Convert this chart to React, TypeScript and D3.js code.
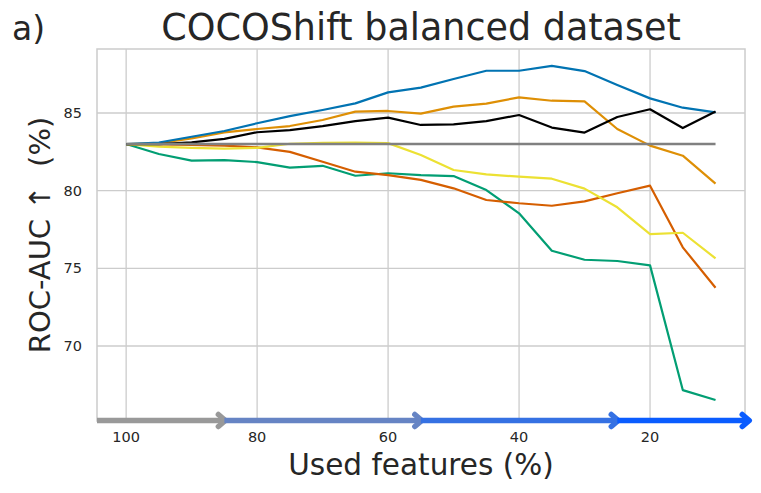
import * as d3 from 'd3';
import { useEffect, useRef } from 'react';

const features = [100, 95, 90, 85, 80, 75, 70, 65, 60, 55, 50, 45, 40, 35, 30, 25, 20, 15, 10];

const blueSeries = [83.0, 83.1, 83.47, 83.84, 84.34, 84.8, 85.19, 85.62, 86.33, 86.63, 87.19, 87.72, 87.72, 88.03, 87.7, 86.8, 85.94, 85.34, 85.04];
const orangeSeries = [83.0, 83.05, 83.37, 83.75, 83.97, 84.16, 84.55, 85.09, 85.13, 84.96, 85.41, 85.6, 86.01, 85.79, 85.75, 83.97, 82.9, 82.25, 80.45];
const blackSeries = [83.0, 83.0, 83.11, 83.33, 83.76, 83.9, 84.16, 84.48, 84.7, 84.23, 84.27, 84.48, 84.87, 84.06, 83.74, 84.74, 85.24, 84.03, 85.09];
const yellowSeries = [83.0, 82.83, 82.76, 82.7, 82.76, 83.02, 83.08, 83.1, 83.06, 82.3, 81.33, 81.05, 80.9, 80.77, 80.13, 78.93, 77.2, 77.29, 75.64];
const redSeries = [83.0, 82.97, 82.94, 82.9, 82.79, 82.5, 81.86, 81.22, 81.0, 80.69, 80.15, 79.4, 79.19, 79.03, 79.31, 79.83, 80.32, 76.35, 73.75];
const greenSeries = [83.0, 82.36, 81.93, 81.97, 81.84, 81.48, 81.6, 80.96, 81.12, 81.0, 80.94, 80.04, 78.54, 76.13, 75.55, 75.47, 75.19, 67.16, 66.52];
const baselineSeries = features.map(() => 83.0);

const xTicks = [100, 80, 60, 40, 20];
const yTicks = [70, 75, 80, 85];

// stages of the feature removal shown under the x axis
const stageStarts = [104.45, 85, 55, 25];
const stageEnds = [85, 55, 25, 5];
const stageColors = ['#999999', '#6684c4', '#3571e3', '#0a5cff'];

export default function App() {
  const ref = useRef<SVGSVGElement | null>(null);

  useEffect(() => {
    const svg = d3.select(ref.current);
    const width = 761;
    const height = 493;
    const margin = { top: 49, right: 16, bottom: 72, left: 97 };
    const ink = '#262626';
    const font = 'DejaVu Sans, sans-serif';

    svg.selectAll('*').remove();
    svg.attr('width', width).attr('height', height);

    const x = d3.scaleLinear()
      .domain([104.45, 5.5])
      .range([margin.left, width - margin.right]);

    const y = d3.scaleLinear()
      .domain([65.17, 89.12])
      .range([height - margin.bottom, margin.top]);

    // grid
    const grid = svg.append('g').attr('stroke', '#cccccc').attr('stroke-width', 1.3);
    grid.selectAll('.vx').data(xTicks).join('line')
      .attr('x1', d => x(d)).attr('x2', d => x(d))
      .attr('y1', margin.top).attr('y2', height - margin.bottom);
    grid.selectAll('.hy').data(yTicks).join('line')
      .attr('x1', margin.left).attr('x2', width - margin.right)
      .attr('y1', d => y(d)).attr('y2', d => y(d));

    // spines
    svg.append('rect')
      .attr('x', margin.left).attr('y', margin.top)
      .attr('width', width - margin.right - margin.left)
      .attr('height', height - margin.bottom - margin.top)
      .attr('fill', 'none').attr('stroke', '#cccccc').attr('stroke-width', 1.5);

    // tick labels
    svg.append('g').selectAll('text').data(xTicks).join('text')
      .attr('x', d => x(d)).attr('y', 442)
      .attr('text-anchor', 'middle')
      .attr('font-family', font).attr('font-size', 14.5).attr('fill', ink)
      .text(d => d);
    svg.append('g').selectAll('text').data(yTicks).join('text')
      .attr('x', 82).attr('y', d => y(d) + 5)
      .attr('text-anchor', 'end')
      .attr('font-family', font).attr('font-size', 14.5).attr('fill', ink)
      .text(d => d);

    const line = d3.line<number>()
      .x((_, i) => x(features[i]))
      .y(d => y(d));

    const series: [number[], string, number][] = [
      [greenSeries, '#029e73', 2.2],
      [redSeries, '#d55e00', 2.2],
      [yellowSeries, '#ece133', 2.2],
      [orangeSeries, '#de8f05', 2.2],
      [blueSeries, '#0173b2', 2.2],
      [blackSeries, '#000000', 2.2],
      [baselineSeries, '#808080', 2.5],
    ];
    series.forEach(([vals, color, w]) => {
      svg.append('path')
        .datum(vals)
        .attr('fill', 'none')
        .attr('stroke', color)
        .attr('stroke-width', w)
        .attr('stroke-linejoin', 'round')
        .attr('d', line);
    });

    // stage arrows
    const ay = y(65.17) - 0.5;
    stageStarts.forEach((s, i) => {
      const g = svg.append('g')
        .attr('stroke', stageColors[i])
        .attr('stroke-width', 5.5)
        .attr('fill', 'none');
      const x0 = x(s);
      const x1 = x(stageEnds[i]) + 1;
      g.append('line').attr('x1', x0).attr('x2', x1 - 2).attr('y1', ay).attr('y2', ay);
      g.append('path')
        .attr('stroke-linejoin', 'round')
        .attr('stroke-linecap', 'round')
        .attr('d', `M${x1 - 7},${ay - 6}L${x1},${ay}L${x1 - 7},${ay + 6}`);
    });

    // titles
    svg.append('text')
      .attr('x', (margin.left + width - margin.right) / 2).attr('y', 40)
      .attr('text-anchor', 'middle')
      .attr('font-family', font).attr('font-size', 36.5).attr('fill', ink)
      .text('COCOShift balanced dataset');
    svg.append('text')
      .attr('x', 12).attr('y', 40)
      .attr('font-family', font).attr('font-size', 33).attr('fill', ink)
      .text('a)');
    svg.append('text')
      .attr('x', (margin.left + width - margin.right) / 2).attr('y', 475)
      .attr('text-anchor', 'middle')
      .attr('font-family', font).attr('font-size', 29.5).attr('fill', ink)
      .text('Used features (%)');
    svg.append('text')
      .attr('transform', `translate(50,${(margin.top + height - margin.bottom) / 2}) rotate(-90)`)
      .attr('text-anchor', 'middle')
      .attr('font-family', font).attr('font-size', 29).attr('fill', ink)
      .style('white-space', 'pre')
      .text('ROC-AUC ↑  (%)');
  }, []);

  return <svg ref={ref} style={{ position: 'absolute', left: 0, top: 0 }}></svg>;
}
